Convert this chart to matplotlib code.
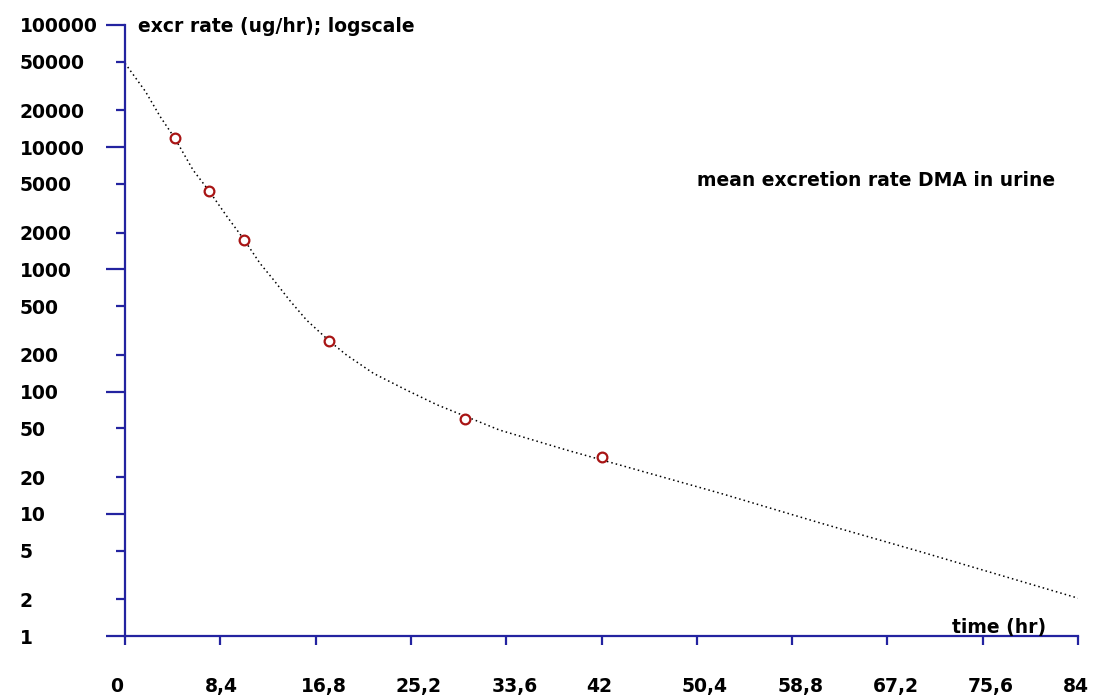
import matplotlib
matplotlib.use("Agg")
import matplotlib.pyplot as plt
import matplotlib.transforms as mtransforms
from matplotlib.font_manager import FontProperties

# measured excretion rates (ug/hr) of DMA in urine
obs_time = [4.4, 7.4, 10.5, 18, 30, 42]
obs_rate = [11800, 4400, 1750, 260, 60, 29]

# fitted curve
fit_time = [0, 1.8, 3.1, 4.4, 6.0, 7.4, 9.0, 10.5, 11.9, 13.1, 14.5, 16.0,
            18.0, 19.5, 21.9, 24.8, 27.5, 33.0, 38.9, 43.6, 52.5, 61.3,
            70.1, 78.6, 84]
fit_rate = [48600, 28600, 17800, 11800, 6500, 4400, 2700, 1750, 1120, 820,
            560, 385, 260, 200, 141, 103, 78, 48.5, 33.3, 25.1, 14.7, 8.4,
            4.9, 2.87, 2.04]

x_ticks = [0, 8.4, 16.8, 25.2, 33.6, 42, 50.4, 58.8, 67.2, 75.6, 84]
x_labels = ["0", "8,4", "16,8", "25,2", "33,6", "42", "50,4", "58,8",
            "67,2", "75,6", "84"]
y_major = [1, 10, 100, 1000, 10000, 100000]
y_minor = [2, 5, 20, 50, 200, 500, 2000, 5000, 20000, 50000]

axis_blue = "#2323a0"
font = dict(family="DejaVu Sans", weight="bold", size=13.5)
fp = FontProperties(**font)

fig = plt.figure(figsize=(10.93, 6.98), dpi=100)
ax = fig.add_axes([125 / 1093, 1 - 636 / 698, 953 / 1093, 611 / 698])

ax.plot(fit_time, fit_rate, color="black", lw=1.1, ls=(0, (1, 2)))
ax.plot(obs_time, obs_rate, ls="none", marker="o", ms=7, mfc="white",
        mec="#a81414", mew=1.6)

ax.set_yscale("log")
ax.set_xlim(0, 84)
ax.set_ylim(1, 100000)

for side in ["top", "right"]:
    ax.spines[side].set_visible(False)
for side in ["left", "bottom"]:
    ax.spines[side].set_color(axis_blue)
    ax.spines[side].set_linewidth(1.6)

ax.set_yticks(y_major)
ax.set_yticklabels([str(v) for v in y_major])
ax.set_yticks(y_minor, minor=True)
ax.set_yticklabels([str(v) for v in y_minor], minor=True)
ax.set_xticks(x_ticks)
ax.set_xticklabels(x_labels)

ax.tick_params(axis="y", which="major", length=14, width=1.6, color=axis_blue,
               direction="out", pad=62)
ax.tick_params(axis="y", which="minor", length=6.8, width=1.6, color=axis_blue,
               direction="out", pad=69)
ax.tick_params(axis="x", which="major", length=6.5, width=1.6, color=axis_blue,
               direction="out", pad=23)

for lab in ax.get_yticklabels() + ax.get_yticklabels(minor=True):
    lab.set_fontproperties(fp)
    lab.set_horizontalalignment("left")

shift = mtransforms.ScaledTranslation(-15 / 100, 0, fig.dpi_scale_trans)
for lab in ax.get_xticklabels():
    lab.set_fontproperties(fp)
    lab.set_horizontalalignment("left")
    lab.set_transform(lab.get_transform() + shift)

ax.text(138 / 1093, 1 - 26 / 698, "excr rate (ug/hr); logscale",
        transform=fig.transFigure, ha="left", va="center", **font)
ax.text(952 / 1093, 1 - 627 / 698, "time (hr)",
        transform=fig.transFigure, ha="left", va="center", **font)
ax.text(697 / 1093, 1 - 180 / 698, "mean excretion rate DMA in urine",
        transform=fig.transFigure, ha="left", va="center", **font)

fig.savefig("out.png", dpi=100)
